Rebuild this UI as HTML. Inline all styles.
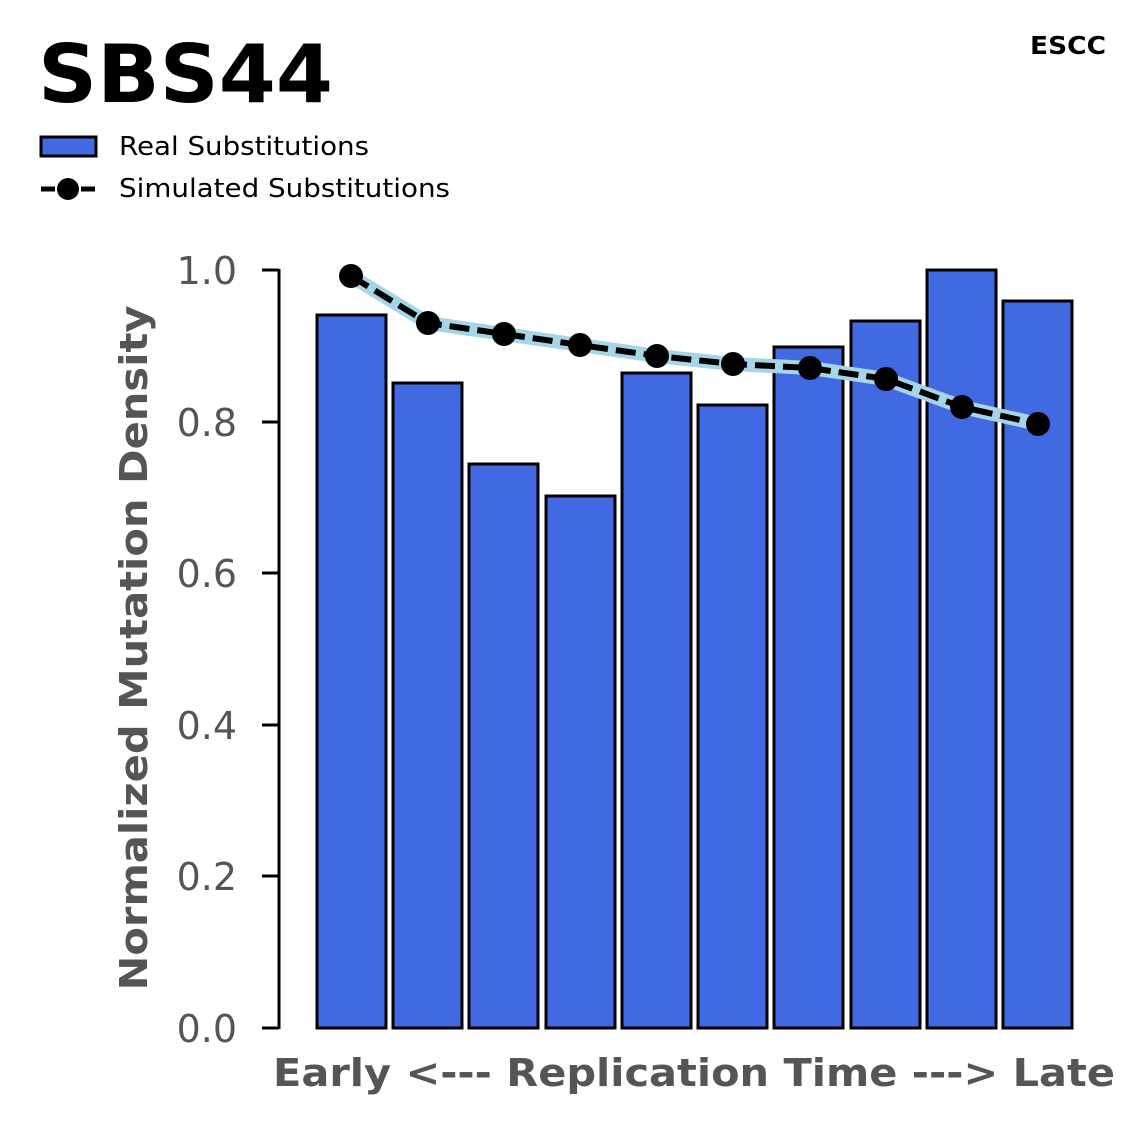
<!DOCTYPE html>
<html><head><meta charset="utf-8"><style>body{margin:0;background:#fff}</style></head><body>
<svg width="1147" height="1125" xmlns="http://www.w3.org/2000/svg" font-family="'DejaVu Sans','Liberation Sans',sans-serif">
<rect width="1147" height="1125" fill="#fff"/>
<text x="38" y="102" font-size="80" font-weight="bold" textLength="295" lengthAdjust="spacingAndGlyphs">SBS44</text>
<text x="1106" y="54" font-size="25" font-weight="bold" text-anchor="end" textLength="76" lengthAdjust="spacingAndGlyphs">ESCC</text>
<rect x="41" y="137" width="55" height="19" fill="#4169e1" stroke="#000" stroke-width="3"/>
<text x="119" y="155" font-size="26" textLength="250" lengthAdjust="spacingAndGlyphs">Real Substitutions</text>
<line x1="41" y1="189" x2="96" y2="189" stroke="#000" stroke-width="5" stroke-dasharray="14,6"/>
<circle cx="68" cy="189" r="11" fill="#000"/>
<text x="119" y="197" font-size="26" textLength="331" lengthAdjust="spacingAndGlyphs">Simulated Substitutions</text>
<g fill="#4169e1" stroke="#000" stroke-width="3">
<rect x="317" y="315" width="69" height="713"/>
<rect x="393" y="383" width="69" height="645"/>
<rect x="469" y="464" width="69" height="564"/>
<rect x="546" y="496" width="69" height="532"/>
<rect x="622" y="373" width="69" height="655"/>
<rect x="698" y="405" width="69" height="623"/>
<rect x="774" y="347" width="69" height="681"/>
<rect x="851" y="321" width="69" height="707"/>
<rect x="927" y="270" width="69" height="758"/>
<rect x="1003" y="301" width="69" height="727"/>
</g>
<polyline points="351,276 428,323 504,334 580,345 657,356 733,364 810,368 886,379 962,407 1038,424" fill="none" stroke="#a6d5e8" stroke-width="14"/>
<polyline points="351,276 428,323 504,334 580,345 657,356 733,364 810,368 886,379 962,407 1038,424" fill="none" stroke="#000" stroke-width="6" stroke-dasharray="20,8"/>
<g fill="#000">
<circle cx="351" cy="276" r="12"/><circle cx="428" cy="323" r="12"/><circle cx="504" cy="334" r="12"/><circle cx="580" cy="345" r="12"/><circle cx="657" cy="356" r="12"/><circle cx="733" cy="364" r="12"/><circle cx="810" cy="368" r="12"/><circle cx="886" cy="379" r="12"/><circle cx="962" cy="407" r="12"/><circle cx="1038" cy="424" r="12"/>
</g>
<line x1="279" y1="269" x2="279" y2="1029" stroke="#000" stroke-width="3"/>
<g stroke="#000" stroke-width="3">
<line x1="262" y1="1028" x2="279" y2="1028"/><line x1="262" y1="876" x2="279" y2="876"/><line x1="262" y1="725" x2="279" y2="725"/><line x1="262" y1="573" x2="279" y2="573"/><line x1="262" y1="422" x2="279" y2="422"/><line x1="262" y1="270" x2="279" y2="270"/>
</g>
<g font-size="38" fill="#555" text-anchor="end">
<text x="237" y="1042">0.0</text><text x="237" y="890">0.2</text><text x="237" y="739">0.4</text><text x="237" y="587">0.6</text><text x="237" y="436">0.8</text><text x="237" y="284">1.0</text>
</g>
<text x="694" y="1086" font-size="38" font-weight="bold" fill="#555" text-anchor="middle" textLength="842" lengthAdjust="spacingAndGlyphs">Early &lt;--- Replication Time ---&gt; Late</text>
<text transform="translate(147,648) rotate(-90)" font-size="38" font-weight="bold" fill="#555" text-anchor="middle" textLength="685" lengthAdjust="spacingAndGlyphs">Normalized Mutation Density</text>
</svg>
</body></html>
